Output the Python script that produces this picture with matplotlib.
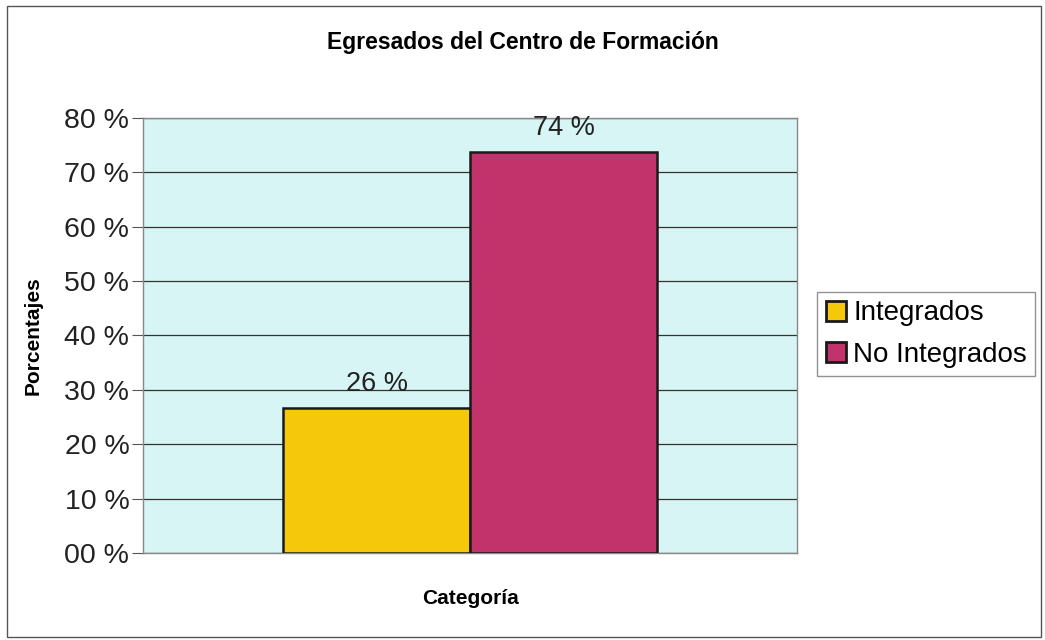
import matplotlib
matplotlib.use("Agg")
import matplotlib.pyplot as plt
from matplotlib.patches import Rectangle

plt.rcParams['font.family'] = ['Liberation Sans', 'DejaVu Sans']

# data
categories = ["Integrados", "No Integrados"]
values = [26.6, 73.7]
value_labels = ["26 %", "74 %"]
colors = ["#f6c80c", "#c2336c"]
yticks = [0, 10, 20, 30, 40, 50, 60, 70, 80]
ytick_labels = ["00 %", "10 %", "20 %", "30 %", "40 %", "50 %", "60 %", "70 %", "80 %"]

fig = plt.figure(figsize=(10.45, 6.4), dpi=100)
fig.patch.set_facecolor("white")
# outer frame of the chart
fig.patches.append(Rectangle((0.007, 0.005), 0.989, 0.986, transform=fig.transFigure,
                             fill=False, edgecolor="#555555", linewidth=1.0))

ax = fig.add_axes([0.137, 0.136, 0.626, 0.680])
ax.set_facecolor("#d8f5f5")

for i, (cat, v, c) in enumerate(zip(categories, values, colors)):
    ax.bar(i, v, width=1.0, color=c, edgecolor="#1a1a1a", linewidth=1.8,
           label=cat, zorder=3)
    ax.text(i, v + 2.0, value_labels[i], ha="center", va="bottom",
            fontsize=19.5, color="#222222", zorder=4)

ax.set_xlim(-1.25, 2.25)
ax.set_ylim(0, 80)
ax.set_yticks(yticks)
ax.set_yticklabels(ytick_labels, fontsize=20.5, color="#222222")
ax.set_xticks([])
ax.yaxis.grid(True, color="#333333", linewidth=0.9, zorder=1)
ax.tick_params(axis="y", length=8, color="#555555", pad=2)
for s in ax.spines.values():
    s.set_color("#888888")
    s.set_linewidth(1.0)

ax.set_ylabel("Porcentajes", fontsize=15, fontweight="bold", labelpad=16)
ax.set_xlabel("Categoría", fontsize=15, fontweight="bold", labelpad=26)
fig.text(0.5, 0.934, "Egresados del Centro de Formación", ha="center", va="center",
         fontsize=16.5, fontweight="bold")

leg = fig.legend(loc="center left", bbox_to_anchor=(0.782, 0.478), fontsize=20,
                 frameon=True, fancybox=False, edgecolor="#777777",
                 handlelength=0.75, handleheight=0.75, handletextpad=0.25,
                 borderpad=0.3, labelspacing=0.55, borderaxespad=0)
leg.get_frame().set_linewidth(1.0)
for h in leg.legend_handles:
    h.set_linewidth(2.0)

fig.savefig("out.png", dpi=100)
